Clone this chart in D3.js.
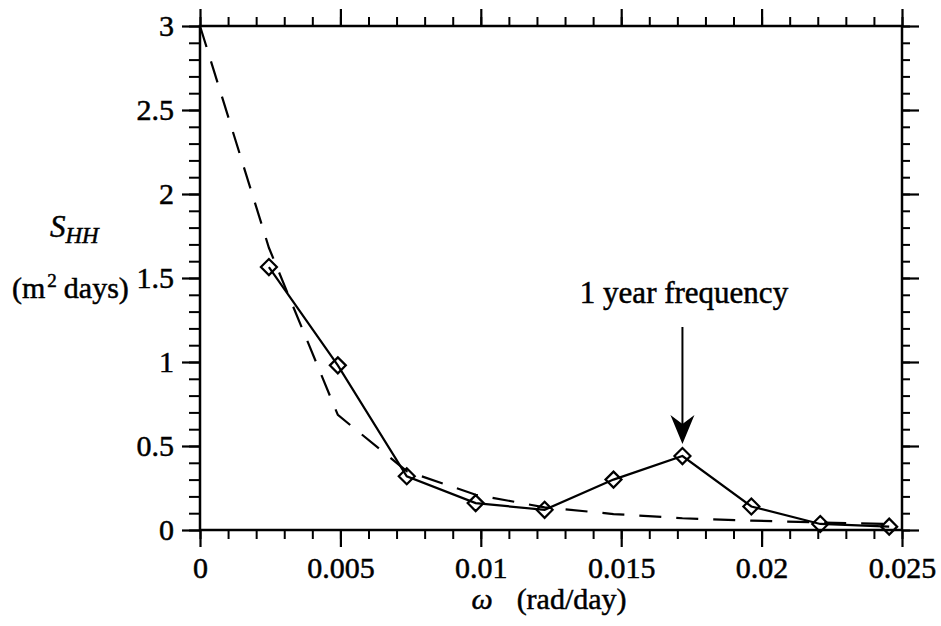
<!DOCTYPE html>
<html>
<head>
<meta charset="utf-8">
<script src="https://cdn.jsdelivr.net/npm/d3@7"></script>
<style>
  body { margin: 0; background: #fff; }
  svg text { font-family: 'Liberation Serif'; fill: #000; stroke: #000; stroke-width: 0.5px; }
</style>
</head>
<body>
<svg width="941" height="626"></svg>
<script>
// frequency (rad/day) of the periodogram points
var omega = [0.002454, 0.004909, 0.007363, 0.009817, 0.012272, 0.014726, 0.017181, 0.019635, 0.022089, 0.024544];
// measured spectrum S_HH (m^2 days)
var shh = [1.565, 0.98, 0.32, 0.16, 0.12, 0.30, 0.44, 0.14, 0.036, 0.02];
// fitted spectrum (dashed), read at 0 and at the same frequencies
var fitOmega = [0, 0.002454, 0.004909, 0.007363, 0.009817, 0.012272, 0.014726, 0.017181, 0.019635, 0.022089, 0.024544];
var fitShh = [3.0, 1.68, 0.685, 0.35, 0.21, 0.135, 0.095, 0.07, 0.056, 0.045, 0.035];

var xMajor = [0, 0.005, 0.01, 0.015, 0.02, 0.025];
var xLabels = ['0', '0.005', '0.01', '0.015', '0.02', '0.025'];
var yMajor = [0, 0.5, 1, 1.5, 2, 2.5, 3];
var yLabels = ['0', '0.5', '1', '1.5', '2', '2.5', '3'];
var peakIndex = 6;

var svg = d3.select('svg');
var x = d3.scaleLinear().domain([0, 0.025]).range([200, 902]);
var y = d3.scaleLinear().domain([0, 3]).range([530, 26]);

var xMinor = d3.range(0, 26).map(function(i) { return i * 0.001; });
var yMinor = d3.range(0, 31).map(function(i) { return i * 0.1; });

function styleAxis(g, w) {
  g.attr('font-family', null).attr('font-size', null);
  g.select('.domain').remove();
  g.selectAll('line').attr('stroke', '#000').attr('stroke-width', w);
}

// minor ticks on all four sides
svg.append('g').attr('transform', 'translate(0,530)')
  .call(d3.axisBottom(x).tickValues(xMinor).tickSize(9).tickFormat(''))
  .call(styleAxis, 2);
svg.append('g').attr('transform', 'translate(0,26)')
  .call(d3.axisTop(x).tickValues(xMinor).tickSize(9).tickFormat(''))
  .call(styleAxis, 2);
svg.append('g').attr('transform', 'translate(200,0)')
  .call(d3.axisLeft(y).tickValues(yMinor).tickSize(11).tickFormat(''))
  .call(styleAxis, 2);
svg.append('g').attr('transform', 'translate(902,0)')
  .call(d3.axisRight(y).tickValues(yMinor).tickSize(8).tickFormat(''))
  .call(styleAxis, 2);

// major ticks
var bottom = svg.append('g').attr('transform', 'translate(0,530)')
  .call(d3.axisBottom(x).tickValues(xMajor).tickSize(17)
    .tickFormat(function(d, i) { return xLabels[i]; }))
  .call(styleAxis, 2.2);
bottom.selectAll('text').style('font-size', '30px').attr('y', 48).attr('dy', null);

svg.append('g').attr('transform', 'translate(0,26)')
  .call(d3.axisTop(x).tickValues(xMajor).tickSize(17).tickFormat(''))
  .call(styleAxis, 2.2);

var left = svg.append('g').attr('transform', 'translate(200,0)')
  .call(d3.axisLeft(y).tickValues(yMajor).tickSize(18)
    .tickFormat(function(d, i) { return yLabels[i]; }))
  .call(styleAxis, 2.2);
left.selectAll('text').style('font-size', '30px').attr('x', -26).attr('dy', '0.33em');

svg.append('g').attr('transform', 'translate(902,0)')
  .call(d3.axisRight(y).tickValues(yMajor).tickSize(17).tickFormat(''))
  .call(styleAxis, 2.2);

// frame
svg.append('rect')
  .attr('x', x(0)).attr('y', y(3))
  .attr('width', x(0.025) - x(0)).attr('height', y(0) - y(3))
  .attr('fill', 'none').attr('stroke', '#000').attr('stroke-width', 2.5);

// dashed fit
var fitLine = d3.line()
  .x(function(d, i) { return x(fitOmega[i]); })
  .y(function(d) { return y(d); });
svg.append('path').datum(fitShh)
  .attr('d', fitLine)
  .attr('fill', 'none').attr('stroke', '#000').attr('stroke-width', 2.2)
  .attr('stroke-dasharray', '22,15');

// measured spectrum
var line = d3.line()
  .x(function(d, i) { return x(omega[i]); })
  .y(function(d) { return y(d); });
svg.append('path').datum(shh)
  .attr('d', line)
  .attr('fill', 'none').attr('stroke', '#000').attr('stroke-width', 2.2);

svg.append('g').selectAll('path')
  .data(shh)
  .enter().append('path')
  .attr('d', 'M0,-8L8,0L0,8L-8,0Z')
  .attr('transform', function(d, i) { return 'translate(' + x(omega[i]) + ',' + y(d) + ')'; })
  .attr('fill', 'none').attr('stroke', '#000').attr('stroke-width', 2.2);

// annotation arrow
var ax = x(omega[peakIndex]);
var tipY = y(shh[peakIndex]) - 12;
svg.append('line')
  .attr('x1', ax).attr('x2', ax).attr('y1', 327).attr('y2', tipY - 10)
  .attr('stroke', '#000').attr('stroke-width', 2);
svg.append('path')
  .attr('d', 'M' + ax + ',' + tipY + 'L' + (ax - 12) + ',' + (tipY - 29) +
    'L' + ax + ',' + (tipY - 20) + 'L' + (ax + 12) + ',' + (tipY - 29) + 'Z')
  .attr('fill', '#000');
svg.append('text')
  .attr('x', 684).attr('y', 303)
  .attr('text-anchor', 'middle').style('font-size', '31px')
  .text('1 year frequency');

// axis titles
var xt = svg.append('text').attr('x', 549).attr('y', 609)
  .attr('text-anchor', 'middle').style('font-size', '30px');
xt.append('tspan').style('font-style', 'italic').text('\u03c9');
xt.append('tspan').attr('dx', 24).text('(rad/day)');

var yt = svg.append('text').attr('x', 50).attr('y', 237).style('font-size', '31px')
  .style('font-style', 'italic');
yt.append('tspan').text('S');
yt.append('tspan').style('font-size', '23px').attr('dy', 6).text('HH');

var yu = svg.append('text').attr('x', 12).attr('y', 298).style('font-size', '30px');
yu.append('tspan').text('(m');
yu.append('tspan').style('font-size', '19px').attr('dy', -11).attr('dx', 2).text('2');
yu.append('tspan').attr('dy', 11).attr('dx', 7).text('days)');
</script>
</body>
</html>
